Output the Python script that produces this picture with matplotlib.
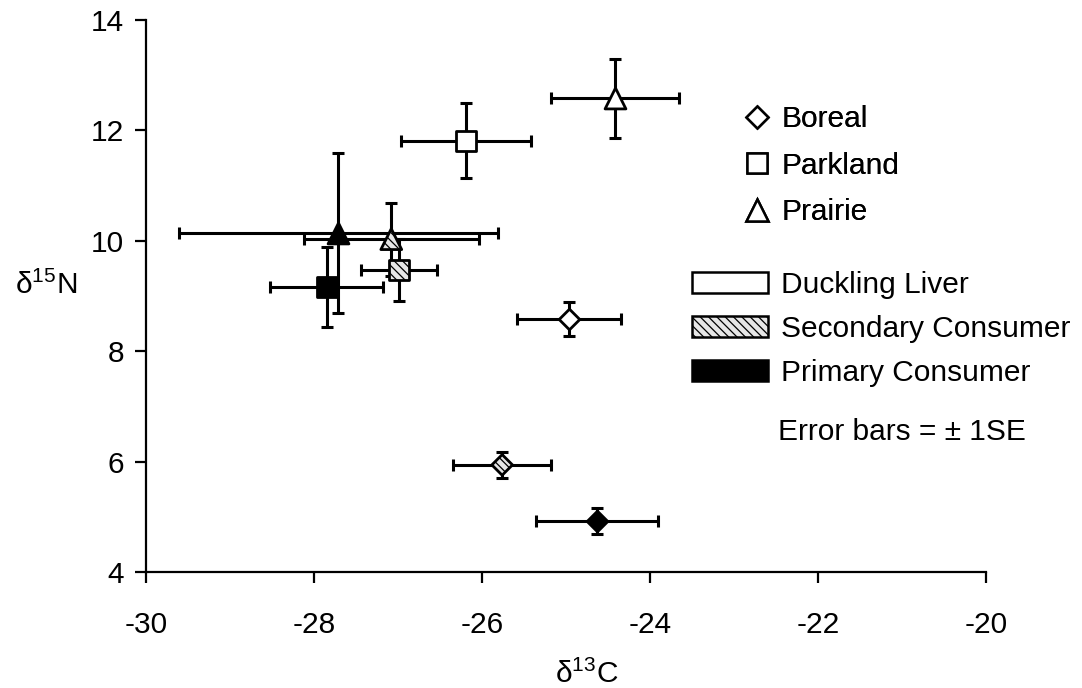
import matplotlib
matplotlib.use('Agg')
import matplotlib.pyplot as plt
from matplotlib.lines import Line2D
from matplotlib.patches import Patch

plt.rcParams['font.family'] = ['Liberation Sans', 'DejaVu Sans']
plt.rcParams['mathtext.fontset'] = 'custom'
plt.rcParams['mathtext.rm'] = 'Liberation Sans'
plt.rcParams['axes.unicode_minus'] = False
plt.rcParams['hatch.linewidth'] = 0.9
plt.rcParams['hatch.color'] = 'black'

# habitat order: Boreal, Parkland, Prairie
habitats = ['Boreal', 'Parkland', 'Prairie']
markers = ['D', 's', '^']
marker_sizes = [10.5, 14, 15]

# duckling liver (open markers)
liver_c = [-24.96, -26.19, -24.42]
liver_n = [8.58, 11.81, 12.58]
liver_cerr = [0.62, 0.77, 0.76]
liver_nerr = [0.31, 0.68, 0.72]

# secondary consumer (hatched markers)
second_c = [-25.76, -26.99, -27.08]
second_n = [5.94, 9.47, 10.03]
second_cerr = [0.58, 0.45, 1.04]
second_nerr = [0.24, 0.56, 0.66]

# primary consumer (black markers)
primary_c = [-24.63, -27.85, -27.71]
primary_n = [4.92, 9.16, 10.14]
primary_cerr = [0.73, 0.67, 1.90]
primary_nerr = [0.24, 0.72, 1.45]

groups = [
    ('Duckling Liver', liver_c, liver_n, liver_cerr, liver_nerr, 'white', None),
    ('Secondary Consumer', second_c, second_n, second_cerr, second_nerr, '#e6e6e6', '\\\\\\\\'),
    ('Primary Consumer', primary_c, primary_n, primary_cerr, primary_nerr, 'black', None),
]

FS = 21.5

fig = plt.figure(figsize=(10.82, 6.88), dpi=100)
ax = fig.add_axes([146 / 1082, 1 - 572 / 688, 840 / 1082, 552 / 688])

for name, cx, ny, cerr, nerr, face, hatch in groups:
    ax.errorbar(cx, ny, xerr=cerr, yerr=nerr, fmt='none', ecolor='black',
                elinewidth=2.2, capsize=4.5, capthick=2.2, zorder=2)
    for i in range(len(habitats)):
        ax.scatter([cx[i]], [ny[i]], marker=markers[i], s=marker_sizes[i] ** 2,
                   facecolor=face, edgecolor='black', linewidth=2.0,
                   hatch=hatch, zorder=3)

ax.set_xlim(-30, -20)
ax.set_ylim(4, 14)
ax.set_xticks([-30, -28, -26, -24, -22, -20])
ax.set_yticks([4, 6, 8, 10, 12, 14])
ax.spines['top'].set_visible(False)
ax.spines['right'].set_visible(False)
for s in ['left', 'bottom']:
    ax.spines[s].set_linewidth(1.6)
ax.tick_params(direction='out', length=8, width=1.6, labelsize=FS)
ax.tick_params(axis='x', pad=20)
ax.tick_params(axis='y', pad=8)

ax.set_xlabel(r'δ$^{13}$C', fontsize=FS)
ax.set_ylabel(r'δ$^{15}$N', fontsize=FS, rotation=0, ha='center', va='center')
ax.xaxis.set_label_coords(0.525, -0.158)
ax.yaxis.set_label_coords(-0.119, 0.52)

# legend of habitats (open markers)
hab_handles = [Line2D([], [], marker=m, markersize=ms, linestyle='none',
                      markerfacecolor='white', markeredgecolor='black',
                      markeredgewidth=1.8)
               for m, ms in zip(markers, [11, 14.5, 15.5])]
leg1 = fig.legend(hab_handles, habitats, loc='upper left',
                  bbox_to_anchor=(745 / 1082, 1 - 105 / 688), frameon=False,
                  fontsize=FS, handlelength=0.8, handletextpad=0.43,
                  borderpad=0, borderaxespad=0, labelspacing=0.62)

# legend of tissue type (patches)
patch_handles = [Patch(facecolor=g[5], edgecolor='black', hatch=g[6], linewidth=1.8)
                 for g in groups]
leg2 = fig.legend(patch_handles, [g[0] for g in groups], loc='upper left',
                  bbox_to_anchor=(692 / 1082, 1 - 271 / 688), frameon=False,
                  fontsize=FS, handlelength=2.56, handleheight=0.72,
                  handletextpad=0.43, borderpad=0, borderaxespad=0,
                  labelspacing=0.53)
fig.add_artist(leg1)

fig.text(778 / 1082, 1 - 432 / 688, 'Error bars = ± 1SE', fontsize=FS,
         ha='left', va='center')

fig.savefig('out.png', dpi=100)
